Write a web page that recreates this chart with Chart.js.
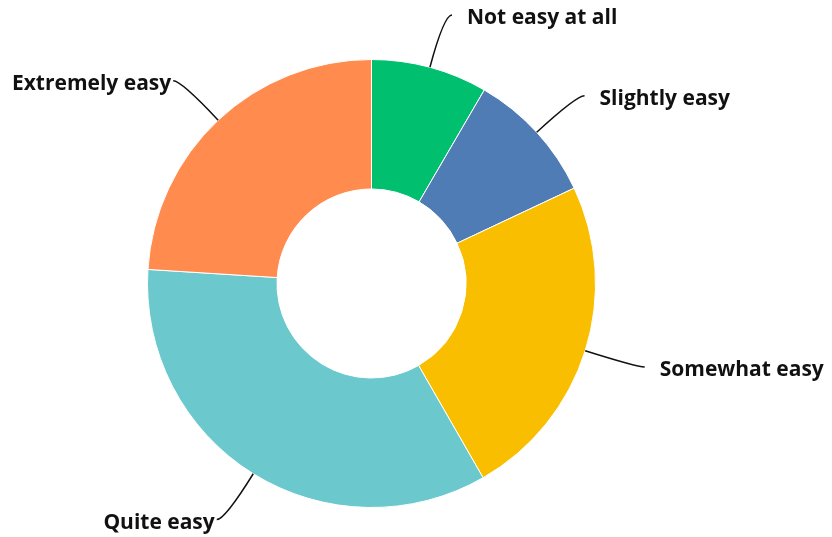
<!DOCTYPE html>
<html>
<head>
<meta charset="utf-8">
<script src="https://cdn.jsdelivr.net/npm/chart.js@4.4.1/dist/chart.umd.min.js"></script>
<style>
  html, body { margin: 0; padding: 0; background: #fff; }
  #wrap { width: 832px; height: 537px; position: relative; }
</style>
</head>
<body>
<div id="wrap"><canvas id="easeChart"></canvas></div>
<script>
// Answer categories, clockwise from 12 o'clock
const categories = ["Not easy at all", "Slightly easy", "Somewhat easy", "Quite easy", "Extremely easy"];
// Share of responses (%)
const shares = [8.4, 9.6, 23.7, 34.3, 24.0];
const sliceColors = ["#00BF6F", "#507CB6", "#F9BE00", "#6BC8CD", "#FF8B4F"];

// Draws the outside labels with curved leader lines
const leaderLabels = {
  id: "leaderLabels",
  afterDraw(chart) {
    const ctx = chart.ctx;
    const arcs = chart.getDatasetMeta(0).data;
    ctx.save();
    ctx.font = "bold 21px 'Open Sans', Roboto, sans-serif";
    ctx.textBaseline = "middle";
    arcs.forEach(function (arc, i) {
      const mid = (arc.startAngle + arc.endAngle) / 2;
      const cos = Math.cos(mid);
      const sin = Math.sin(mid);
      const r = arc.outerRadius;
      const sx = arc.x + r * cos;
      const sy = arc.y + r * sin;
      const ex = arc.x + (r + 54) * cos;
      const ey = arc.y + (r + 54) * sin;
      const right = cos >= 0;
      const tx = ex + (right ? 8 : -8);

      ctx.beginPath();
      ctx.moveTo(sx, sy);
      ctx.quadraticCurveTo(ex, ey, tx, ey);
      ctx.strokeStyle = "#111";
      ctx.lineWidth = 1.5;
      ctx.stroke();

      ctx.fillStyle = "#111";
      ctx.textAlign = right ? "left" : "right";
      ctx.fillText(categories[i], right ? tx + 15 : tx - 2, ey + 3);
    });
    ctx.restore();
  },
};

const ctx = document.getElementById("easeChart");
new Chart(ctx.getContext("2d"), {
  type: "doughnut",
  data: {
    labels: categories,
    datasets: [
      {
        data: shares,
        backgroundColor: sliceColors,
        borderColor: "#ffffff",
        borderWidth: 1,
      },
    ],
  },
  options: {
    responsive: true,
    maintainAspectRatio: false,
    animation: false,
    radius: 224,
    cutout: "42.2%",
    layout: {
      padding: { left: 0, right: 89, top: 30, bottom: 0 },
    },
    plugins: {
      legend: { display: false },
      tooltip: { enabled: false },
    },
  },
  plugins: [leaderLabels],
});
</script>
</body>
</html>
